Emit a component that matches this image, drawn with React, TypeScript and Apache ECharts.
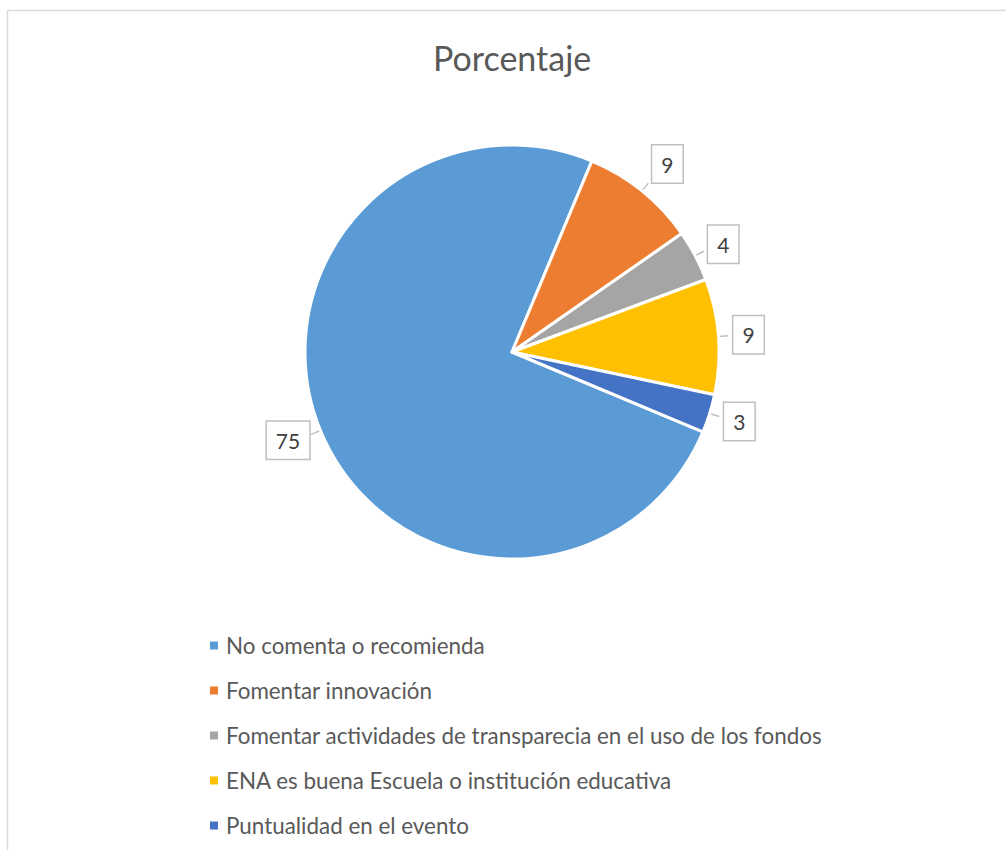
import React, { useEffect, useRef } from "react";
import * as echarts from "echarts";

const categories = [
  "No comenta o recomienda",
  "Fomentar innovación",
  "Fomentar actividades de transparecia en el uso de los fondos",
  "ENA es buena Escuela o institución educativa",
  "Puntualidad en el evento",
];
const values = [75, 9, 4, 9, 3];
const colors = ["#5B9BD5", "#ED7D31", "#A5A5A5", "#FFC000", "#4472C4"];
const title = "Porcentaje";

export default function App() {
  const ref = useRef<HTMLDivElement>(null);
  useEffect(() => {
    if (!ref.current) return;
    const chart = echarts.init(ref.current, null, { renderer: "svg" });
    const font = "Lato, 'Open Sans', sans-serif";
    // small nudges of the data labels, like Excel's label placement
    const labelNudge = [
      [3, 6],
      [-1, -19],
      [-1, -7],
      [0, -1],
      [0, 5],
    ];
    chart.setOption({
      animation: false,
      backgroundColor: "#ffffff",
      title: {
        text: title,
        left: 428,
        top: 35,
        textStyle: { fontFamily: font, fontSize: 34, fontWeight: "normal", color: "#595959" },
      },
      graphic: [
        {
          type: "rect",
          shape: { x: 7.5, y: 10.5, width: 1200, height: 1000 },
          style: { fill: "none", stroke: "#D9D9D9", lineWidth: 1.5 },
          silent: true,
        },
      ],
      legend: {
        orient: "vertical",
        left: 203,
        top: 629,
        itemGap: 22,
        itemWidth: 10,
        itemHeight: 10,
        icon: "rect",
        textStyle: {
          fontFamily: font,
          fontSize: 22.4,
          lineHeight: 23,
          color: "#595959",
          padding: [0, 0, 0, 2],
        },
        data: categories,
      },
      series: [
        {
          type: "pie",
          center: [512, 352],
          radius: 207,
          startAngle: -22.7,
          clockwise: true,
          avoidLabelOverlap: false,
          itemStyle: { borderColor: "#ffffff", borderWidth: 3 },
          label: {
            show: true,
            position: "outside",
            formatter: "{c}",
            fontFamily: font,
            fontSize: 21,
            color: "#404040",
            backgroundColor: "#ffffff",
            borderColor: "#BFBFBF",
            borderWidth: 1.5,
            padding: [8, 9, 8, 9],
          },
          labelLine: {
            show: true,
            length: 10,
            length2: 0,
            lineStyle: { color: "#BFBFBF", width: 1.5 },
          },
          labelLayout: (params: any) => {
            const n = labelNudge[params.dataIndex] || [0, 0];
            return { dx: n[0], dy: n[1] };
          },
          data: categories.map((name, i) => ({
            name,
            value: values[i],
            itemStyle: { color: colors[i] },
          })),
        },
      ],
    });
    return () => chart.dispose();
  }, []);
  return (
    <div
      ref={ref}
      style={{ position: "fixed", left: 0, top: 0, width: 1006, height: 850 }}
    />
  );
}
